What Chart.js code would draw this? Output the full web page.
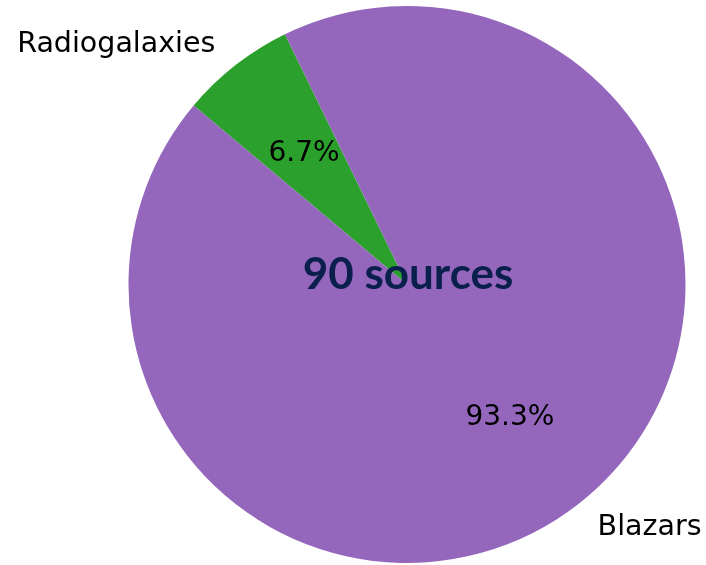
<!DOCTYPE html>
<html>
<head>
<meta charset="utf-8">
<script src="https://cdn.jsdelivr.net/npm/chart.js@4/dist/chart.umd.min.js"></script>
<style>
  html, body { margin: 0; padding: 0; background: #ffffff; }
  #wrap { width: 706px; height: 565px; }
</style>
</head>
<body>
<div id="wrap"><canvas id="pie" width="706" height="565"></canvas></div>
<script>
// Source classes and their counts
const categories = ['Radiogalaxies', 'Blazars'];
const counts = [6, 84];
const sliceColors = ['#2ca02c', '#9467bd'];

const total = counts.reduce((a, b) => a + b, 0);
const centerText = total + ' sources';

// Draws the outer class names, the inner percentages and the centre caption
const pieLabels = {
  id: 'pieLabels',
  afterDatasetsDraw(chart) {
    const ctx = chart.ctx;
    const meta = chart.getDatasetMeta(0);
    ctx.save();
    meta.data.forEach((arc, i) => {
      const p = arc.getProps(['x', 'y', 'startAngle', 'endAngle', 'outerRadius'], true);
      const mid = (p.startAngle + p.endAngle) / 2;
      const c = Math.cos(mid), s = Math.sin(mid);

      // percentage inside the slice
      const pct = (100 * counts[i] / total).toFixed(1) + '%';
      ctx.font = '28px "DejaVu Sans"';
      ctx.fillStyle = '#000000';
      ctx.textAlign = 'center';
      ctx.textBaseline = 'alphabetic';
      ctx.fillText(pct, p.x + c * p.outerRadius * 0.6, p.y + s * p.outerRadius * 0.6 + 8.5);

      // class name outside the pie
      ctx.font = '28.5px "DejaVu Sans"';
      ctx.textAlign = c < 0 ? 'right' : 'left';
      const gap = c < 0 ? -3 : 2;
      ctx.fillText(categories[i], p.x + c * p.outerRadius * 1.1 + gap, p.y + s * p.outerRadius * 1.1 + 9.3);
    });

    // caption in the middle
    const a0 = meta.data[0];
    ctx.font = 'bold 44px Lato';
    ctx.fillStyle = '#0a1f4c';
    ctx.textAlign = 'center';
    ctx.textBaseline = 'alphabetic';
    ctx.fillText(centerText, a0.x + 1, a0.y + 4.5);
    ctx.restore();
  }
};

new Chart(document.getElementById('pie'), {
  type: 'pie',
  data: {
    labels: categories,
    datasets: [{
      data: counts,
      backgroundColor: sliceColors,
      borderWidth: 0
    }]
  },
  options: {
    responsive: false,
    devicePixelRatio: 1,
    animation: false,
    rotation: -50,
    layout: { padding: { left: 128, right: 20, top: 6, bottom: 2 } },
    plugins: {
      legend: { display: false },
      tooltip: { enabled: false }
    }
  },
  plugins: [pieLabels]
});
</script>
</body>
</html>
